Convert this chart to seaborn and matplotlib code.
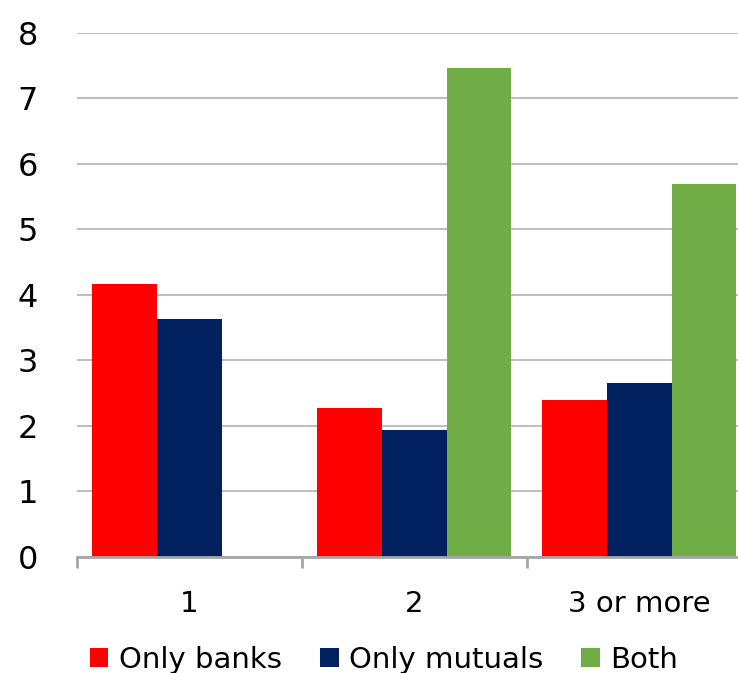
import pandas as pd
import numpy as np
import matplotlib
matplotlib.use("Agg")
import matplotlib.pyplot as plt
import seaborn as sns

categories = ["1", "2", "3 or more"]
series = ["Only banks", "Only mutuals", "Both"]
only_banks = [4.17, 2.27, 2.40]
only_mutuals = [3.63, 1.94, 2.66]
both = [np.nan, 7.47, 5.69]
colors = ["#FF0000", "#002060", "#70AD47"]

df = pd.DataFrame({
    "category": categories * 3,
    "series": [s for s in series for _ in categories],
    "value": only_banks + only_mutuals + both,
})

sns.set_style("white")
plt.rcParams["font.family"] = ["DejaVu Sans"]
plt.rcParams["text.color"] = "black"

fig = plt.figure(figsize=(7.38, 6.73), dpi=100)
# the plot area runs a little past the right edge of the picture, as in the original
ax = fig.add_axes([0.1043, 0.1724, 0.9146, 0.7786])

sns.barplot(data=df, x="category", y="value", hue="series", order=categories,
            hue_order=series, palette=colors, width=0.862, gap=0,
            linewidth=0, saturation=1, ax=ax)

ax.set_xlim(-0.5, 2.5)
ax.set_ylim(0, 8)
ax.set_yticks(range(0, 9))
ax.yaxis.grid(True, color="#BFBFBF", linewidth=1.5)
ax.set_axisbelow(True)
ax.set_xlabel("")
ax.set_ylabel("")

for side in ["top", "right", "left"]:
    ax.spines[side].set_visible(False)
ax.spines["bottom"].set_color("#A6A6A6")
ax.spines["bottom"].set_linewidth(2)

ax.tick_params(axis="y", length=0, pad=28, labelsize=23, labelcolor="black")
ax.tick_params(axis="x", which="major", length=0, pad=24, labelsize=21,
               labelcolor="black")
ax.set_xticks([-0.5, 0.5, 1.5, 2.5], minor=True)
ax.tick_params(axis="x", which="minor", bottom=True, length=8, width=2,
               color="#A6A6A6")

handles, labels = ax.get_legend_handles_labels()
ax.legend_.remove()
fig.legend(handles, labels, loc="lower center", bbox_to_anchor=(0.52, -0.04),
           ncol=3, frameon=False, fontsize=21, handlelength=0.65,
           handleheight=0.65, handletextpad=0.35, columnspacing=1.3)

fig.savefig("out.png", dpi=100)
